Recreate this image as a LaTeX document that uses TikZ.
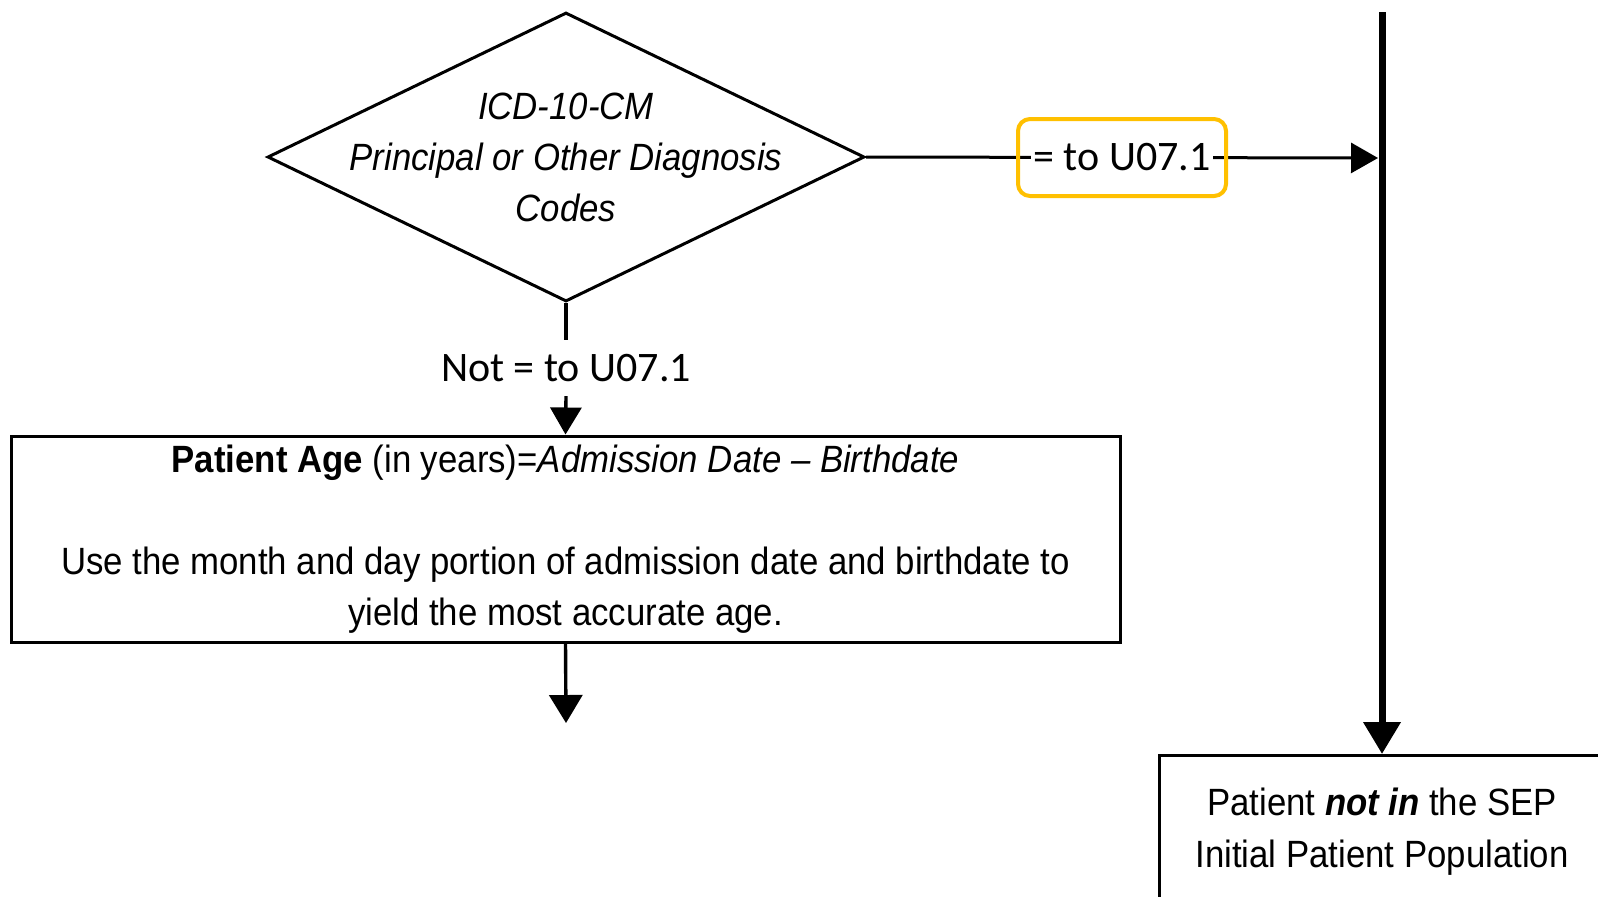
\documentclass[tikz,border=0pt]{standalone}
\usepackage{fontspec}
\setmainfont{Liberation Sans}[FakeStretch=0.915]
\newfontfamily\labelfont{Carlito}
\usetikzlibrary{shapes.geometric,arrows.meta}
\definecolor{jaune}{RGB}{255,192,0}
\setlength{\fboxsep}{1pt}

\tikzset{
  boite/.style={draw, line width=1.5pt, align=center, inner sep=0pt},
  fleche/.style={line width=1.7pt, -{Triangle[width=15.5pt,length=13.5pt]}},
  etiquette/.style={font=\labelfont\fontsize{21}{25}\selectfont, inner sep=7pt},
}

\begin{document}
\begin{tikzpicture}[x=0.5pt,y=-0.5pt, font=\fontsize{19}{25.5}\selectfont]
\useasboundingbox (0,0) rectangle (1598,896);
\clip (0,0) rectangle (1598,896);
\fill[white] (0,0) rectangle (1598,896);

% Losange
\node[diamond, draw, line width=1.5pt, inner sep=0pt, minimum width=298.5pt, minimum height=144.5pt] (icd) at (566,157) {};
\node[align=center, font=\itshape\fontsize{19}{25.5}\selectfont] (icdtexte) at (icd.center) {ICD-10-CM\\Principal or Other Diagnosis\\Codes};

% Age du patient
\node[boite, minimum width=554.5pt, minimum height=103pt] (age) at (565.5,539) {\textbf{Patient Age} (in years)=\textit{Admission Date -- Birthdate}\\[25.5pt]Use the month and day portion of admission date and birthdate to\\yield the most accurate age.};

% Hors population
\node[boite, anchor=north, minimum width=223pt, inner sep=16pt, font=\fontsize{19}{26}\selectfont] (horsipp) at (1382,754) {Patient \textbf{\textit{not in}} the SEP\\Initial Patient Population};

\coordinate (haut) at (1382,12);
\coordinate (jonction) at (1382,158);
\coordinate (suite) at (566,723);

% Relations
\node[etiquette] (nonegal) at (566,368) {Not = to U07.1};
\draw[line width=1.7pt] (icd.south) -- (nonegal.north);
\draw[fleche] (nonegal.south) -- (age.north);
\draw[fleche, -{Triangle[width=16.5pt,length=14pt]}] (age.south) -- (suite);

\draw[line width=1.5pt, -{Triangle[width=15pt,length=13.5pt]}, shorten >=2pt] (icd.east) -- node[etiquette, inner sep=0pt, draw=jaune, line width=2pt, rounded corners=6pt, minimum width=104pt, minimum height=38.5pt, xshift=-1pt] (egal) {\colorbox{white}{= to U07.1}} (jonction);

\draw[line width=3.5pt, -{Triangle[width=18pt,length=16pt]}] (haut) -- (horsipp.north);

\end{tikzpicture}
\end{document}
